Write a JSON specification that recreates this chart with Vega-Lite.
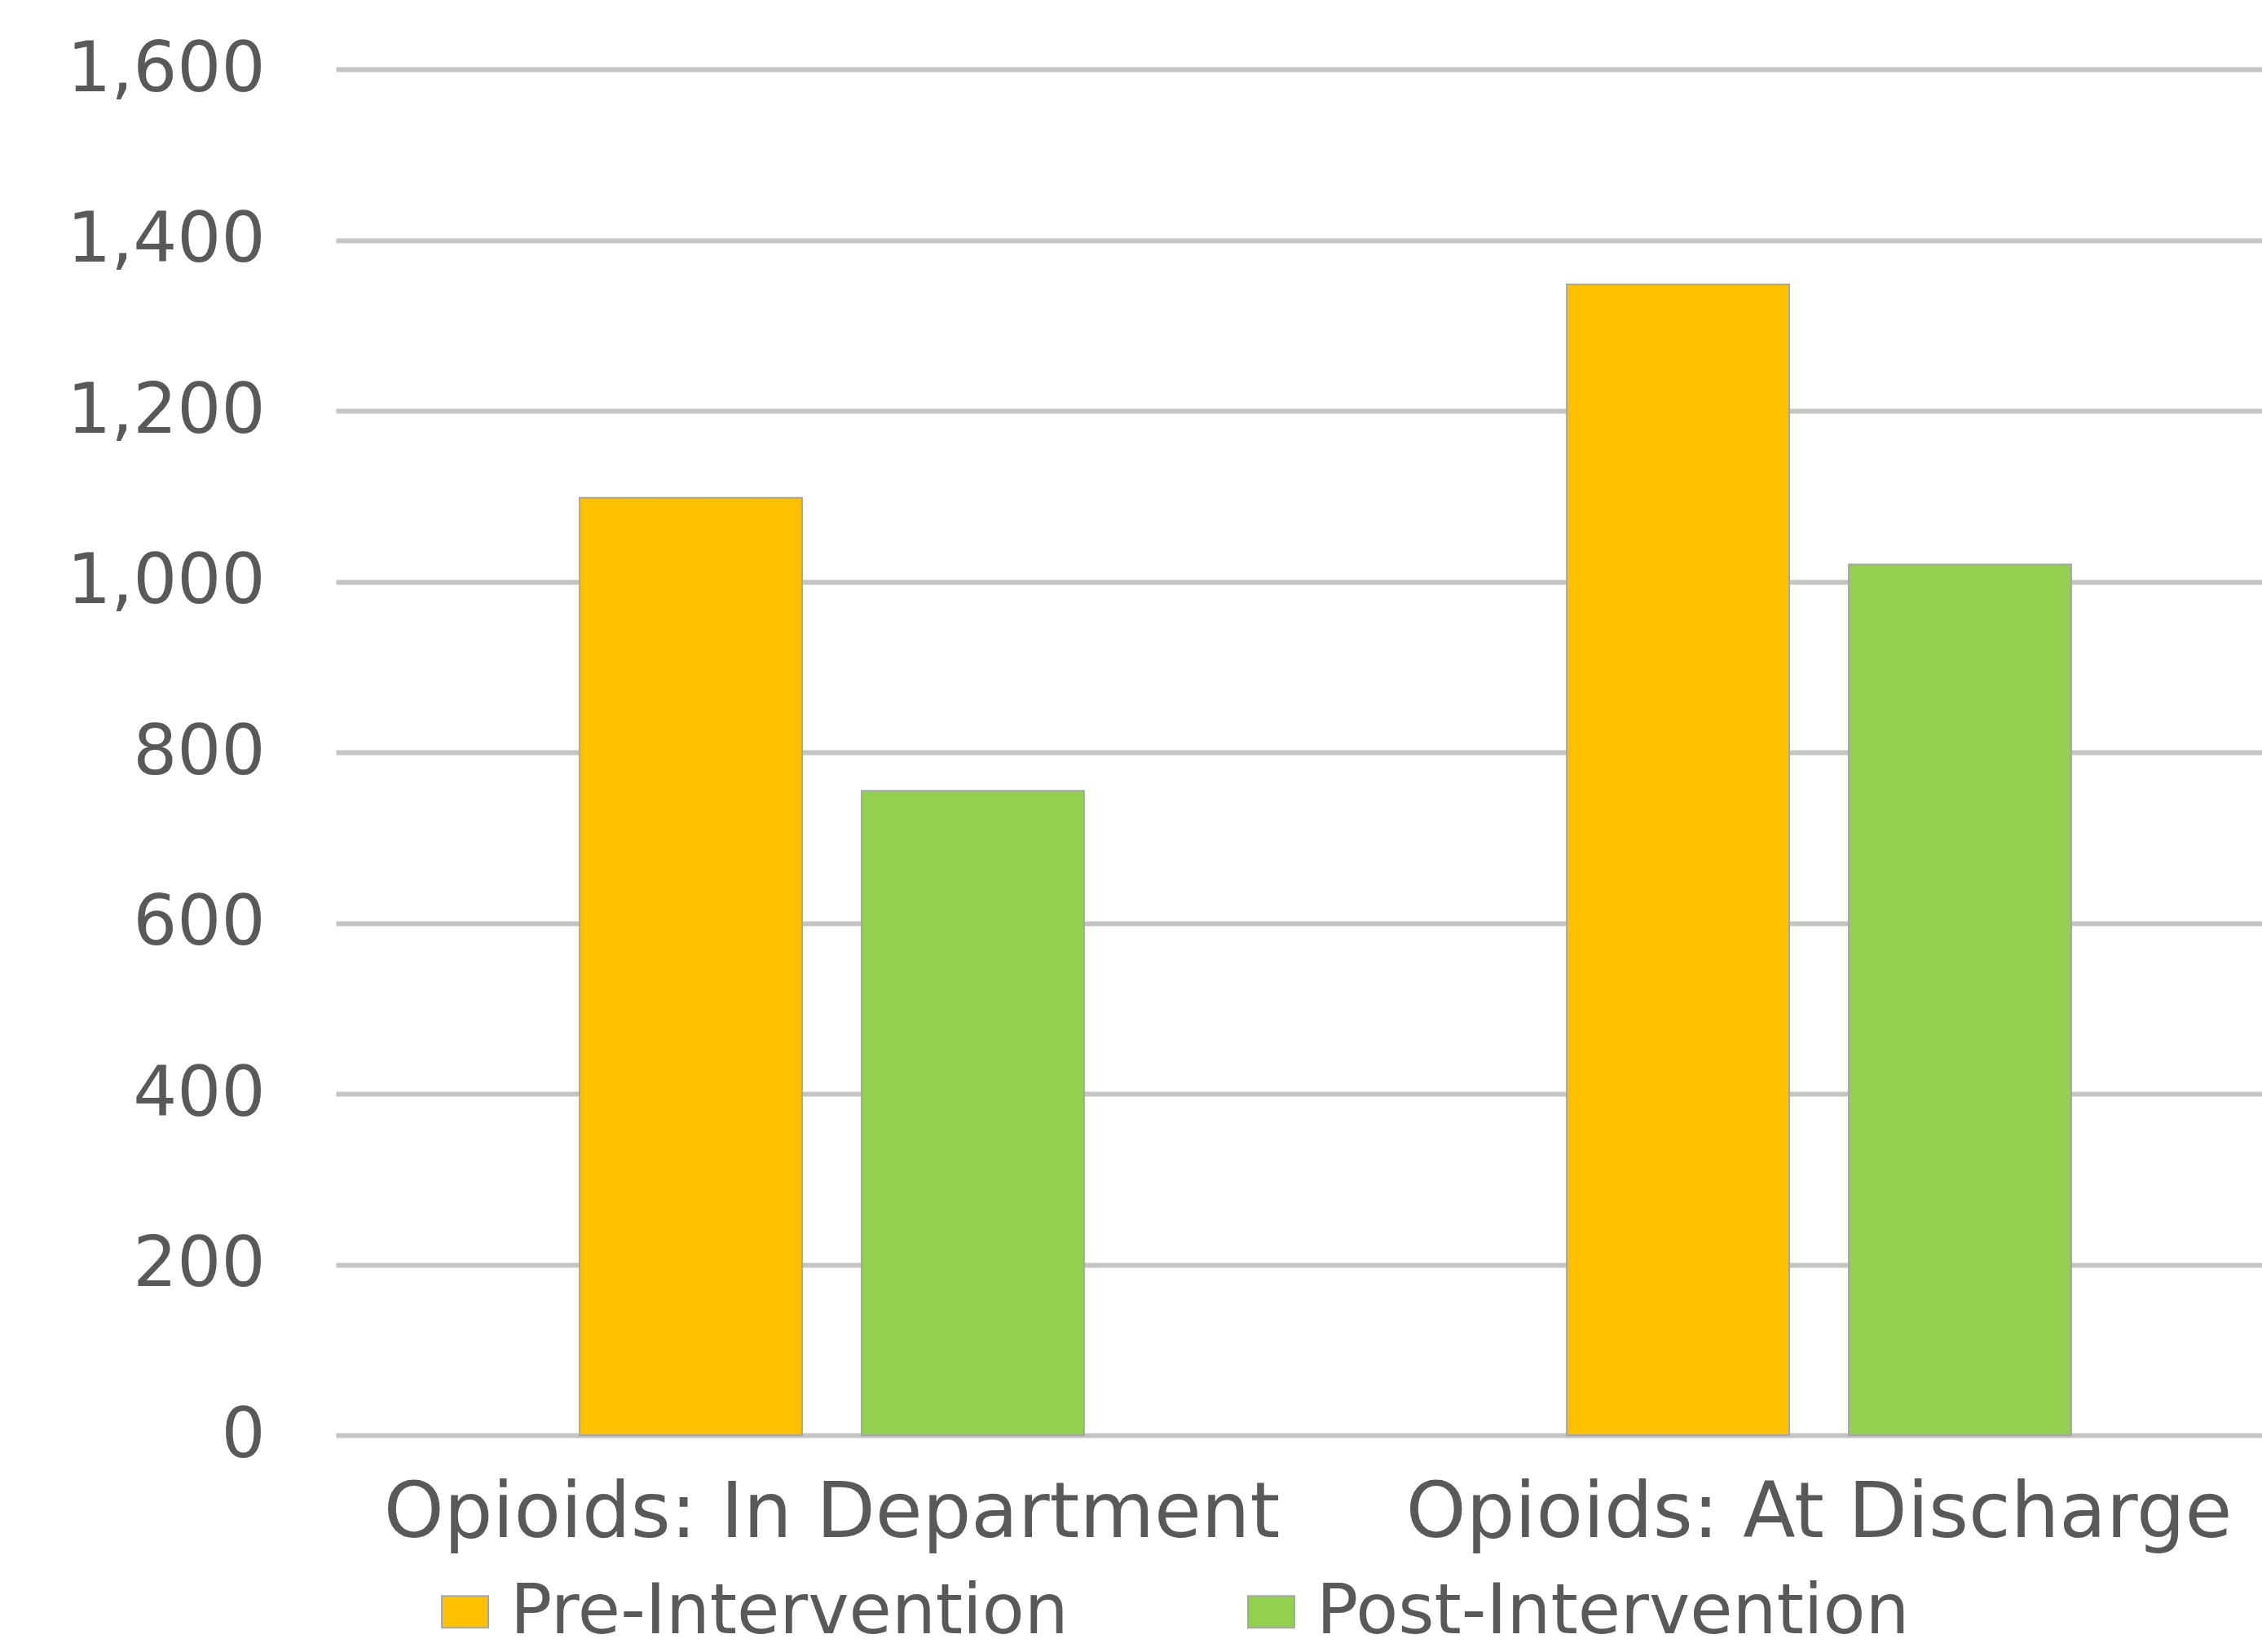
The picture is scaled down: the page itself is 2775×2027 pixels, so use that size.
{
  "$schema": "https://vega.github.io/schema/vega-lite/v6.json",
  "autosize": {"type": "none"},
  "padding": {"left": 412, "top": 85, "right": 0, "bottom": 266},
  "width": 2363,
  "height": 1676,
  "background": "#ffffff",
  "config": {
    "view": {"stroke": null},
    "font": "DejaVu Sans"
  },
  "data": {
    "values": [
      {"category": "Opioids: In Department", "period": "Pre-Intervention", "count": 1098},
      {"category": "Opioids: In Department", "period": "Post-Intervention", "count": 755},
      {"category": "Opioids: At Discharge", "period": "Pre-Intervention", "count": 1348},
      {"category": "Opioids: At Discharge", "period": "Post-Intervention", "count": 1020}
    ]
  },
  "mark": {"type": "bar", "stroke": "#a6a6a6", "strokeWidth": 2},
  "encoding": {
    "x": {
      "field": "category",
      "type": "nominal",
      "sort": null,
      "scale": {"paddingInner": 0.489, "paddingOuter": 0.2201, "align": 0.561},
      "axis": {
        "title": null,
        "domain": false,
        "ticks": false,
        "labelAngle": 0,
        "labelFont": "DejaVu Sans",
        "labelFontSize": 94,
        "labelColor": "#595959",
        "labelPadding": 50,
        "labelLimit": 2000
      }
    },
    "xOffset": {
      "field": "period",
      "type": "nominal",
      "sort": ["Pre-Intervention", "Post-Intervention"],
      "scale": {"paddingInner": 0.211, "paddingOuter": 0}
    },
    "y": {
      "field": "count",
      "type": "quantitative",
      "scale": {"domain": [0, 1600], "nice": false},
      "axis": {
        "title": null,
        "values": [0, 200, 400, 600, 800, 1000, 1200, 1400, 1600],
        "format": ",.0f",
        "domain": false,
        "ticks": false,
        "grid": true,
        "gridColor": "#c4c4c4",
        "gridWidth": 6,
        "labelFont": "DejaVu Sans",
        "labelFontSize": 85,
        "labelColor": "#595959",
        "labelPadding": 87,
        "labelLimit": 1000
      }
    },
    "color": {
      "field": "period",
      "type": "nominal",
      "sort": ["Pre-Intervention", "Post-Intervention"],
      "scale": {"domain": ["Pre-Intervention", "Post-Intervention"], "range": ["#FFC000", "#92D050"]},
      "legend": {
        "title": null,
        "orient": "none",
        "legendX": 116,
        "legendY": 1850,
        "direction": "horizontal",
        "symbolType": "M-1,-0.68H1V0.68H-1Z",
        "symbolSize": 3249,
        "symbolStrokeColor": "#a6a6a6",
        "symbolStrokeWidth": 2,
        "labelFont": "DejaVu Sans",
        "labelFontSize": 85,
        "labelColor": "#595959",
        "labelOffset": 13,
        "labelLimit": 2000,
        "columnPadding": 206,
        "padding": 0
      }
    }
  }
}
